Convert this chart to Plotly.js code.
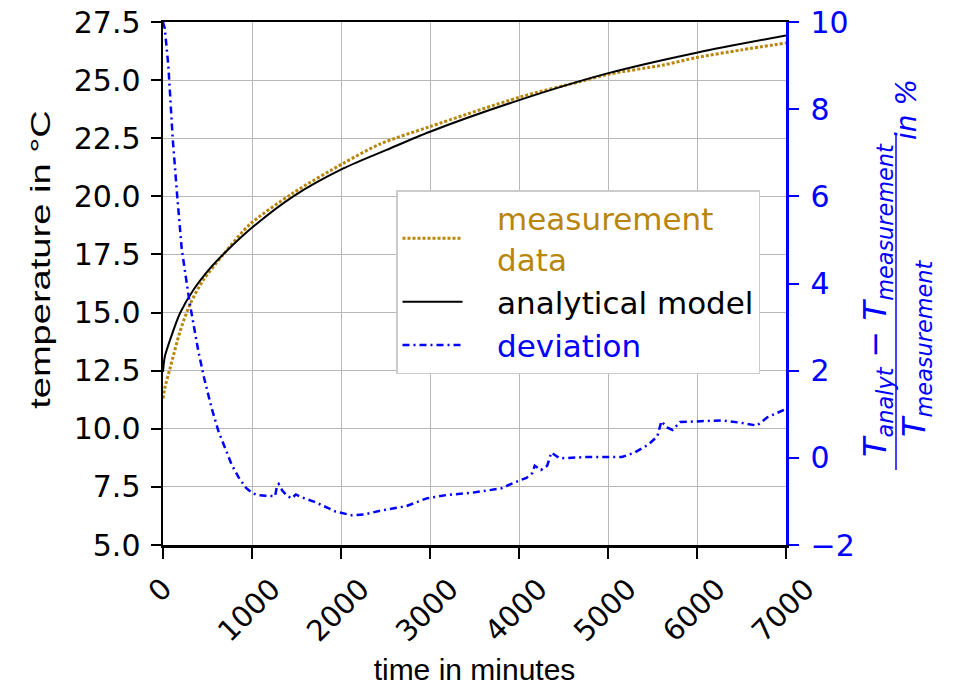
<!DOCTYPE html>
<html>
<head>
<meta charset="utf-8">
<script src="https://cdn.plot.ly/plotly-3.0.1.min.js"></script>
<style>html,body{margin:0;padding:0;background:#fff;}#chart{width:959px;height:686px;}</style>
</head>
<body>
<div id="chart"></div>
<script>
// ---- data ----
const modelTime = [0, 20, 79, 191, 341, 528, 715, 1015, 1464, 2026, 2513, 3000, 4011, 5004, 5996, 7000];
const modelTemp = [12.45, 13.1, 13.82, 14.97, 15.97, 16.9, 17.65, 18.7, 20.0, 21.2, 22.0, 22.78, 24.15, 25.3, 26.18, 26.92];

const measTime = [0, 20, 79, 191, 303, 453, 678, 978, 1464, 2026, 2438, 3000, 4011, 4680, 5004, 5622, 5996, 6500, 7000];
const measTemp = [11.3, 11.75, 12.6, 14.18, 15.35, 16.4, 17.5, 18.8, 20.15, 21.42, 22.25, 23.0, 24.27, 24.93, 25.25, 25.65, 25.97, 26.3, 26.6];

const devTime = [0, 20, 60, 110, 160, 210, 296, 397, 460, 545, 620, 700, 770, 850, 933, 1000, 1050, 1150, 1260, 1280, 1300, 1340, 1400, 1447, 1493, 1550, 1703, 1937, 2123, 2263, 2450, 2730, 2963, 3197, 3477, 3803, 3943, 4083, 4150, 4177, 4247, 4317, 4363, 4457, 4783, 5157, 5297, 5450, 5554, 5600, 5660, 5726, 5810, 6277, 6510, 6673, 6790, 6977];
const devPct = [10.0, 9.85, 9.0, 7.3, 6.0, 4.8, 3.6, 2.45, 1.85, 1.15, 0.63, 0.2, -0.15, -0.45, -0.69, -0.8, -0.85, -0.87, -0.88, -0.65, -0.6, -0.75, -0.88, -0.93, -0.84, -0.9, -1.01, -1.23, -1.32, -1.3, -1.21, -1.11, -0.93, -0.85, -0.8, -0.7, -0.57, -0.46, -0.35, -0.18, -0.28, -0.18, 0.12, -0.01, 0.02, 0.02, 0.12, 0.3, 0.49, 0.84, 0.7, 0.64, 0.82, 0.86, 0.8, 0.74, 0.93, 1.1];

const xTicks = [0, 1000, 2000, 3000, 4000, 5000, 6000, 7000];
const xTickLabels = ['0', '1000', '2000', '3000', '4000', '5000', '6000', '7000'];

const GOLD = '#B8860B';
const BLUE = '#0000FF';
const TICKFONT = 'DejaVu Sans';
const LABELFONT = 'Liberation Sans, Arial, sans-serif';
const PAD = '\u00A0\u00A0\u00A0';

const traces = [
  {x: measTime, y: measTemp, type: 'scatter', mode: 'lines', yaxis: 'y',
   name: PAD + '<span style="color:' + GOLD + '">measurement</span><br>' + PAD + '<span style="color:' + GOLD + '">data</span>',
   line: {color: GOLD, width: 3, dash: '3px,2px', shape: 'spline', smoothing: 0.8}},
  {x: modelTime, y: modelTemp, type: 'scatter', mode: 'lines', yaxis: 'y',
   name: PAD + 'analytical model', line: {color: '#000000', width: 2, shape: 'spline', smoothing: 0.8}},
  {x: devTime, y: devPct, type: 'scatter', mode: 'lines', yaxis: 'y2',
   name: PAD + '<span style="color:' + BLUE + '">deviation</span>',
   line: {color: BLUE, width: 2.5, dash: '7px,4px,2px,4px'}}
];

// plot area in pixels
const L = 163, R = 786, T = 22, B = 545;
const px2x = p => (p - L) / (R - L);
const px2y = p => (B - p) / (B - T);

const annotations = xTicks.map((v, i) => ({
  x: v, xref: 'x', y: px2y(569), yref: 'paper', xanchor: 'center', yanchor: 'top', xshift: -3,
  text: xTickLabels[i], textangle: -45, showarrow: false,
  font: {family: TICKFONT, size: 29, color: '#000'}
}));

annotations.push(
  {x: px2x(877), y: px2y(300), xref: 'paper', yref: 'paper', xanchor: 'center', yanchor: 'middle',
   textangle: -90, showarrow: false,
   text: '<i>T</i><sub><i>analyt</i></sub> − <i>T</i><sub><i>measurement</i></sub>',
   font: {family: TICKFONT, size: 32, color: BLUE}},
  {x: px2x(916), y: px2y(349), xref: 'paper', yref: 'paper', xanchor: 'center', yanchor: 'middle',
   textangle: -90, showarrow: false,
   text: '<i>T</i><sub><i>measurement</i></sub>',
   font: {family: TICKFONT, size: 32, color: BLUE}},
  {x: px2x(907), y: px2y(110), xref: 'paper', yref: 'paper', xanchor: 'center', yanchor: 'middle',
   textangle: -90, showarrow: false,
   text: '<i>in %</i>',
   font: {family: TICKFONT, size: 28, color: BLUE}}
);

const layout = {
  width: 959, height: 686,
  margin: {l: L, r: 959 - R, t: T, b: 686 - B, pad: 0},
  paper_bgcolor: '#ffffff', plot_bgcolor: '#ffffff',
  showlegend: true,
  legend: {x: px2x(396), y: px2y(374), xanchor: 'left', yanchor: 'bottom',
           bgcolor: '#ffffff', bordercolor: '#cccccc', borderwidth: 1.5,
           font: {family: TICKFONT, size: 31, color: '#000'}, itemwidth: 60,
           tracegroupgap: 0},
  xaxis: {range: [0, 7000], tickvals: xTicks, showticklabels: false,
          ticks: 'outside', ticklen: 11, tickwidth: 2, tickcolor: '#000',
          showline: true, linecolor: '#000', linewidth: 2.5, mirror: true,
          showgrid: true, gridcolor: '#b8b8b8', gridwidth: 1, zeroline: false,
          title: {text: 'time in minutes', standoff: 105, font: {family: LABELFONT, size: 30, color: '#000'}}},
  yaxis: {range: [5, 27.5], dtick: 2.5, tick0: 5, tickformat: '.1f',
          ticks: 'outside', ticklen: 10, tickwidth: 2, tickcolor: '#000',
          tickfont: {family: TICKFONT, size: 30, color: '#000'},
          showline: true, linecolor: '#000', linewidth: 2.5,
          showgrid: true, gridcolor: '#b8b8b8', gridwidth: 1, zeroline: false,
          ticklabelstandoff: 4,
          title: {text: 'temperature in °C', standoff: 12, font: {family: LABELFONT, size: 28, color: '#000'}}},
  yaxis2: {range: [-2, 10], dtick: 2, tick0: -2, overlaying: 'y', side: 'right',
           ticks: 'outside', ticklen: 10, tickwidth: 2, tickcolor: BLUE,
           tickfont: {family: TICKFONT, size: 30, color: BLUE},
           showline: true, linecolor: BLUE, linewidth: 2.5,
           showgrid: false, zeroline: false, ticklabelstandoff: 6},
  shapes: [
    {type: 'line', xref: 'paper', yref: 'paper', x0: px2x(896), x1: px2x(896), y0: px2y(470), y1: px2y(133),
     line: {color: BLUE, width: 1.5}}
  ],
  annotations: annotations
};

Plotly.newPlot('chart', traces, layout, {displayModeBar: false, staticPlot: true}).then(gd => {
  // the reference's y-axis label is drawn stretched along its length and sits a bit above centre
  const t = gd.querySelector('.ytitle');
  if (t) {
    const x = parseFloat(t.getAttribute('x')), y = parseFloat(t.getAttribute('y'));
    const tr = t.getAttribute('transform') || '';
    t.setAttribute('transform', 'translate(-3,-24) ' + tr + ' translate(' + x + ',' + y + ') scale(1.36,1) translate(' + (-x) + ',' + (-y) + ')');
  }
});
</script>
</body>
</html>
